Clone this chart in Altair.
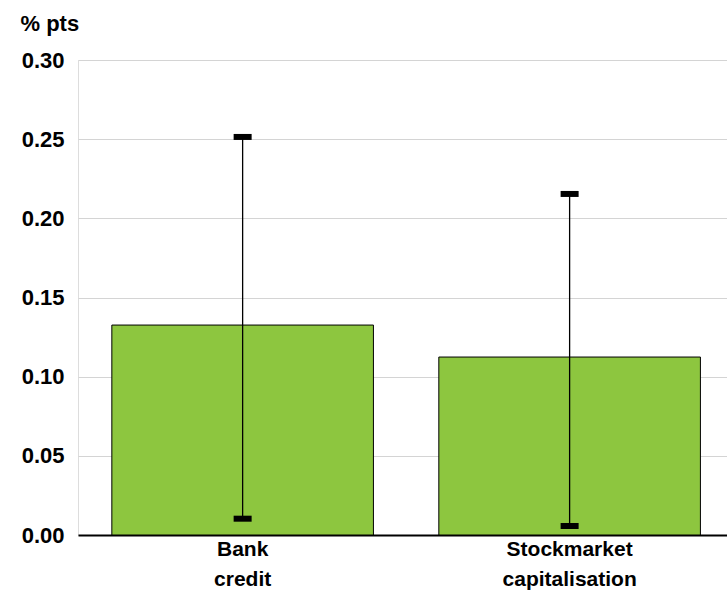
import altair as alt
import pandas as pd

categories = ["Bank credit", "Stockmarket capitalisation"]
values = [0.1326, 0.1124]
lows = [0.0103, 0.0057]
highs = [0.2514, 0.2154]
y_ticks = [0.0, 0.05, 0.10, 0.15, 0.20, 0.25, 0.30]

df = pd.DataFrame({"cat": categories, "val": values, "lo": lows, "hi": highs})

FONT = "Liberation Sans"

xscale = alt.Scale(paddingInner=0.2, paddingOuter=0.0924, align=0.56)
xaxis = alt.Axis(
    title=None, labelAngle=0, labelExpr="split(datum.label, ' ')",
    labelFont=FONT, labelFontSize=21, labelFontWeight="bold", labelColor="black",
    labelLineHeight=30, labelPadding=3, ticks=False, domain=True, domainColor="black",
    domainWidth=2, grid=False,
)
yscale = alt.Scale(domain=[0, 0.3], nice=False)
yaxis = alt.Axis(
    values=y_ticks, format=".2f", title="% pts", titleAngle=0, titleX=-58, titleY=-30,
    titleAlign="left", titleBaseline="alphabetic", titleFont=FONT, titleFontSize=22,
    titleFontWeight="bold", titleColor="black",
    labelFont=FONT, labelFontSize=22, labelFontWeight="bold", labelColor="black",
    labelPadding=14, ticks=False, domain=False, gridColor="#d4d4d4", gridWidth=1,
)

x = alt.X("cat:N", sort=categories, scale=xscale, axis=xaxis)

bars = alt.Chart(df).mark_bar(color="#8DC63F", stroke="black", strokeWidth=1).encode(
    x=x, y=alt.Y("val:Q", scale=yscale, axis=yaxis),
)
rule = alt.Chart(df).mark_rule(color="black", strokeWidth=1.3).encode(
    x=x, y=alt.Y("lo:Q", scale=yscale, axis=yaxis), y2="hi:Q"
)
cap_lo = alt.Chart(df).mark_tick(color="black", size=18, thickness=6, opacity=1).encode(
    x=x, y=alt.Y("lo:Q", scale=yscale, axis=yaxis)
)
cap_hi = alt.Chart(df).mark_tick(color="black", size=18, thickness=6, opacity=1).encode(
    x=x, y=alt.Y("hi:Q", scale=yscale, axis=yaxis)
)

chart = alt.layer(bars, rule, cap_lo, cap_hi).properties(
    width=649, height=475,
    autosize=alt.AutoSizeParams(type="none"),
    padding={"left": 78, "top": 60, "right": 0, "bottom": 58},
).configure_view(stroke=None).configure(background="white")

chart.save("out.html", embed_options={"renderer": "svg", "actions": False})
